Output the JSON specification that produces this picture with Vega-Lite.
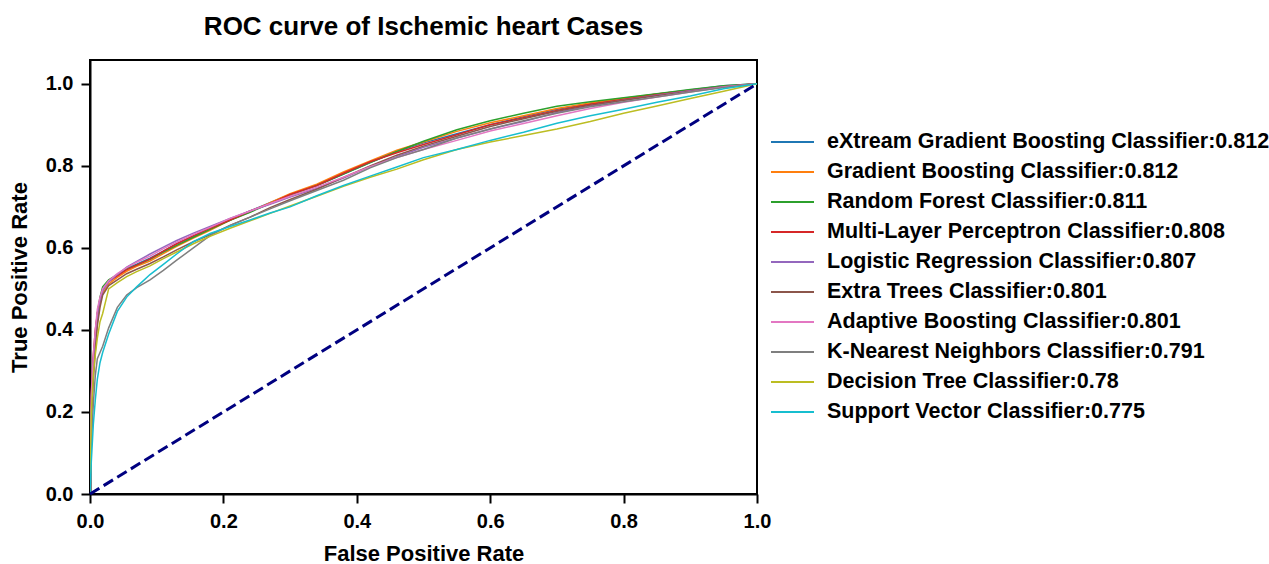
{
 "$schema": "https://vega.github.io/schema/vega-lite/v6.json",
 "width": 667,
 "height": 434,
 "autosize": {"type": "none"},
 "padding": {"left": 90, "top": 60, "right": 512, "bottom": 70},
 "background": "white",
 "title": {"text": "ROC curve of Ischemic heart Cases", "font": "Liberation Sans", "fontSize": 26, "fontWeight": "bold", "color": "black", "anchor": "middle", "frame": "group", "baseline": "alphabetic", "offset": -1},
 "config": {"view": {"stroke": "black", "strokeWidth": 2}},
 "layer": [
  {
   "data": {"values": [
{"model":"eXtream Gradient Boosting Classifier:0.812","fpr":0,"tpr":0},{"model":"eXtream Gradient Boosting Classifier:0.812","fpr":0.002,"tpr":0.23},{"model":"eXtream Gradient Boosting Classifier:0.812","fpr":0.005,"tpr":0.33},{"model":"eXtream Gradient Boosting Classifier:0.812","fpr":0.008,"tpr":0.38},{"model":"eXtream Gradient Boosting Classifier:0.812","fpr":0.011,"tpr":0.44},{"model":"eXtream Gradient Boosting Classifier:0.812","fpr":0.015,"tpr":0.475},{"model":"eXtream Gradient Boosting Classifier:0.812","fpr":0.019,"tpr":0.5},{"model":"eXtream Gradient Boosting Classifier:0.812","fpr":0.028,"tpr":0.52},{"model":"eXtream Gradient Boosting Classifier:0.812","fpr":0.041,"tpr":0.535},{"model":"eXtream Gradient Boosting Classifier:0.812","fpr":0.055,"tpr":0.55},{"model":"eXtream Gradient Boosting Classifier:0.812","fpr":0.07,"tpr":0.56},{"model":"eXtream Gradient Boosting Classifier:0.812","fpr":0.09,"tpr":0.575},{"model":"eXtream Gradient Boosting Classifier:0.812","fpr":0.11,"tpr":0.592},{"model":"eXtream Gradient Boosting Classifier:0.812","fpr":0.13,"tpr":0.61},{"model":"eXtream Gradient Boosting Classifier:0.812","fpr":0.155,"tpr":0.628},{"model":"eXtream Gradient Boosting Classifier:0.812","fpr":0.18,"tpr":0.648},{"model":"eXtream Gradient Boosting Classifier:0.812","fpr":0.21,"tpr":0.668},{"model":"eXtream Gradient Boosting Classifier:0.812","fpr":0.24,"tpr":0.69},{"model":"eXtream Gradient Boosting Classifier:0.812","fpr":0.27,"tpr":0.71},{"model":"eXtream Gradient Boosting Classifier:0.812","fpr":0.3,"tpr":0.73},{"model":"eXtream Gradient Boosting Classifier:0.812","fpr":0.34,"tpr":0.752},{"model":"eXtream Gradient Boosting Classifier:0.812","fpr":0.38,"tpr":0.78},{"model":"eXtream Gradient Boosting Classifier:0.812","fpr":0.42,"tpr":0.808},{"model":"eXtream Gradient Boosting Classifier:0.812","fpr":0.46,"tpr":0.835},{"model":"eXtream Gradient Boosting Classifier:0.812","fpr":0.5,"tpr":0.856},{"model":"eXtream Gradient Boosting Classifier:0.812","fpr":0.55,"tpr":0.878},{"model":"eXtream Gradient Boosting Classifier:0.812","fpr":0.6,"tpr":0.9},{"model":"eXtream Gradient Boosting Classifier:0.812","fpr":0.65,"tpr":0.92},{"model":"eXtream Gradient Boosting Classifier:0.812","fpr":0.7,"tpr":0.938},{"model":"eXtream Gradient Boosting Classifier:0.812","fpr":0.75,"tpr":0.952},{"model":"eXtream Gradient Boosting Classifier:0.812","fpr":0.8,"tpr":0.963},{"model":"eXtream Gradient Boosting Classifier:0.812","fpr":0.85,"tpr":0.975},{"model":"eXtream Gradient Boosting Classifier:0.812","fpr":0.9,"tpr":0.985},{"model":"eXtream Gradient Boosting Classifier:0.812","fpr":0.95,"tpr":0.995},{"model":"eXtream Gradient Boosting Classifier:0.812","fpr":1,"tpr":1},
{"model":"Gradient Boosting Classifier:0.812","fpr":0,"tpr":0},{"model":"Gradient Boosting Classifier:0.812","fpr":0.002,"tpr":0.2},{"model":"Gradient Boosting Classifier:0.812","fpr":0.005,"tpr":0.3},{"model":"Gradient Boosting Classifier:0.812","fpr":0.008,"tpr":0.36},{"model":"Gradient Boosting Classifier:0.812","fpr":0.011,"tpr":0.42},{"model":"Gradient Boosting Classifier:0.812","fpr":0.015,"tpr":0.465},{"model":"Gradient Boosting Classifier:0.812","fpr":0.019,"tpr":0.49},{"model":"Gradient Boosting Classifier:0.812","fpr":0.028,"tpr":0.512},{"model":"Gradient Boosting Classifier:0.812","fpr":0.041,"tpr":0.528},{"model":"Gradient Boosting Classifier:0.812","fpr":0.055,"tpr":0.543},{"model":"Gradient Boosting Classifier:0.812","fpr":0.07,"tpr":0.555},{"model":"Gradient Boosting Classifier:0.812","fpr":0.09,"tpr":0.568},{"model":"Gradient Boosting Classifier:0.812","fpr":0.11,"tpr":0.586},{"model":"Gradient Boosting Classifier:0.812","fpr":0.13,"tpr":0.604},{"model":"Gradient Boosting Classifier:0.812","fpr":0.155,"tpr":0.624},{"model":"Gradient Boosting Classifier:0.812","fpr":0.18,"tpr":0.643},{"model":"Gradient Boosting Classifier:0.812","fpr":0.21,"tpr":0.668},{"model":"Gradient Boosting Classifier:0.812","fpr":0.24,"tpr":0.688},{"model":"Gradient Boosting Classifier:0.812","fpr":0.27,"tpr":0.71},{"model":"Gradient Boosting Classifier:0.812","fpr":0.3,"tpr":0.732},{"model":"Gradient Boosting Classifier:0.812","fpr":0.34,"tpr":0.755},{"model":"Gradient Boosting Classifier:0.812","fpr":0.38,"tpr":0.785},{"model":"Gradient Boosting Classifier:0.812","fpr":0.42,"tpr":0.812},{"model":"Gradient Boosting Classifier:0.812","fpr":0.46,"tpr":0.838},{"model":"Gradient Boosting Classifier:0.812","fpr":0.5,"tpr":0.858},{"model":"Gradient Boosting Classifier:0.812","fpr":0.55,"tpr":0.884},{"model":"Gradient Boosting Classifier:0.812","fpr":0.6,"tpr":0.905},{"model":"Gradient Boosting Classifier:0.812","fpr":0.65,"tpr":0.922},{"model":"Gradient Boosting Classifier:0.812","fpr":0.7,"tpr":0.94},{"model":"Gradient Boosting Classifier:0.812","fpr":0.75,"tpr":0.953},{"model":"Gradient Boosting Classifier:0.812","fpr":0.8,"tpr":0.965},{"model":"Gradient Boosting Classifier:0.812","fpr":0.85,"tpr":0.975},{"model":"Gradient Boosting Classifier:0.812","fpr":0.9,"tpr":0.984},{"model":"Gradient Boosting Classifier:0.812","fpr":0.95,"tpr":0.993},{"model":"Gradient Boosting Classifier:0.812","fpr":1,"tpr":1},
{"model":"Random Forest Classifier:0.811","fpr":0,"tpr":0},{"model":"Random Forest Classifier:0.811","fpr":0.002,"tpr":0.21},{"model":"Random Forest Classifier:0.811","fpr":0.005,"tpr":0.32},{"model":"Random Forest Classifier:0.811","fpr":0.008,"tpr":0.39},{"model":"Random Forest Classifier:0.811","fpr":0.011,"tpr":0.44},{"model":"Random Forest Classifier:0.811","fpr":0.015,"tpr":0.48},{"model":"Random Forest Classifier:0.811","fpr":0.019,"tpr":0.505},{"model":"Random Forest Classifier:0.811","fpr":0.028,"tpr":0.522},{"model":"Random Forest Classifier:0.811","fpr":0.041,"tpr":0.535},{"model":"Random Forest Classifier:0.811","fpr":0.055,"tpr":0.548},{"model":"Random Forest Classifier:0.811","fpr":0.07,"tpr":0.558},{"model":"Random Forest Classifier:0.811","fpr":0.09,"tpr":0.572},{"model":"Random Forest Classifier:0.811","fpr":0.11,"tpr":0.59},{"model":"Random Forest Classifier:0.811","fpr":0.13,"tpr":0.606},{"model":"Random Forest Classifier:0.811","fpr":0.155,"tpr":0.626},{"model":"Random Forest Classifier:0.811","fpr":0.18,"tpr":0.645},{"model":"Random Forest Classifier:0.811","fpr":0.21,"tpr":0.667},{"model":"Random Forest Classifier:0.811","fpr":0.24,"tpr":0.687},{"model":"Random Forest Classifier:0.811","fpr":0.27,"tpr":0.708},{"model":"Random Forest Classifier:0.811","fpr":0.3,"tpr":0.728},{"model":"Random Forest Classifier:0.811","fpr":0.34,"tpr":0.752},{"model":"Random Forest Classifier:0.811","fpr":0.38,"tpr":0.78},{"model":"Random Forest Classifier:0.811","fpr":0.42,"tpr":0.808},{"model":"Random Forest Classifier:0.811","fpr":0.46,"tpr":0.835},{"model":"Random Forest Classifier:0.811","fpr":0.5,"tpr":0.86},{"model":"Random Forest Classifier:0.811","fpr":0.55,"tpr":0.888},{"model":"Random Forest Classifier:0.811","fpr":0.6,"tpr":0.91},{"model":"Random Forest Classifier:0.811","fpr":0.65,"tpr":0.928},{"model":"Random Forest Classifier:0.811","fpr":0.7,"tpr":0.945},{"model":"Random Forest Classifier:0.811","fpr":0.75,"tpr":0.956},{"model":"Random Forest Classifier:0.811","fpr":0.8,"tpr":0.966},{"model":"Random Forest Classifier:0.811","fpr":0.85,"tpr":0.976},{"model":"Random Forest Classifier:0.811","fpr":0.9,"tpr":0.986},{"model":"Random Forest Classifier:0.811","fpr":0.95,"tpr":0.995},{"model":"Random Forest Classifier:0.811","fpr":1,"tpr":1},
{"model":"Multi-Layer Perceptron Classifier:0.808","fpr":0,"tpr":0},{"model":"Multi-Layer Perceptron Classifier:0.808","fpr":0.002,"tpr":0.25},{"model":"Multi-Layer Perceptron Classifier:0.808","fpr":0.005,"tpr":0.34},{"model":"Multi-Layer Perceptron Classifier:0.808","fpr":0.008,"tpr":0.4},{"model":"Multi-Layer Perceptron Classifier:0.808","fpr":0.011,"tpr":0.44},{"model":"Multi-Layer Perceptron Classifier:0.808","fpr":0.015,"tpr":0.475},{"model":"Multi-Layer Perceptron Classifier:0.808","fpr":0.019,"tpr":0.498},{"model":"Multi-Layer Perceptron Classifier:0.808","fpr":0.028,"tpr":0.518},{"model":"Multi-Layer Perceptron Classifier:0.808","fpr":0.041,"tpr":0.532},{"model":"Multi-Layer Perceptron Classifier:0.808","fpr":0.055,"tpr":0.547},{"model":"Multi-Layer Perceptron Classifier:0.808","fpr":0.07,"tpr":0.558},{"model":"Multi-Layer Perceptron Classifier:0.808","fpr":0.09,"tpr":0.573},{"model":"Multi-Layer Perceptron Classifier:0.808","fpr":0.11,"tpr":0.592},{"model":"Multi-Layer Perceptron Classifier:0.808","fpr":0.13,"tpr":0.61},{"model":"Multi-Layer Perceptron Classifier:0.808","fpr":0.155,"tpr":0.63},{"model":"Multi-Layer Perceptron Classifier:0.808","fpr":0.18,"tpr":0.648},{"model":"Multi-Layer Perceptron Classifier:0.808","fpr":0.21,"tpr":0.668},{"model":"Multi-Layer Perceptron Classifier:0.808","fpr":0.24,"tpr":0.69},{"model":"Multi-Layer Perceptron Classifier:0.808","fpr":0.27,"tpr":0.708},{"model":"Multi-Layer Perceptron Classifier:0.808","fpr":0.3,"tpr":0.73},{"model":"Multi-Layer Perceptron Classifier:0.808","fpr":0.34,"tpr":0.752},{"model":"Multi-Layer Perceptron Classifier:0.808","fpr":0.38,"tpr":0.782},{"model":"Multi-Layer Perceptron Classifier:0.808","fpr":0.42,"tpr":0.81},{"model":"Multi-Layer Perceptron Classifier:0.808","fpr":0.46,"tpr":0.832},{"model":"Multi-Layer Perceptron Classifier:0.808","fpr":0.5,"tpr":0.852},{"model":"Multi-Layer Perceptron Classifier:0.808","fpr":0.55,"tpr":0.876},{"model":"Multi-Layer Perceptron Classifier:0.808","fpr":0.6,"tpr":0.9},{"model":"Multi-Layer Perceptron Classifier:0.808","fpr":0.65,"tpr":0.917},{"model":"Multi-Layer Perceptron Classifier:0.808","fpr":0.7,"tpr":0.935},{"model":"Multi-Layer Perceptron Classifier:0.808","fpr":0.75,"tpr":0.95},{"model":"Multi-Layer Perceptron Classifier:0.808","fpr":0.8,"tpr":0.962},{"model":"Multi-Layer Perceptron Classifier:0.808","fpr":0.85,"tpr":0.973},{"model":"Multi-Layer Perceptron Classifier:0.808","fpr":0.9,"tpr":0.983},{"model":"Multi-Layer Perceptron Classifier:0.808","fpr":0.95,"tpr":0.993},{"model":"Multi-Layer Perceptron Classifier:0.808","fpr":1,"tpr":1},
{"model":"Logistic Regression Classifier:0.807","fpr":0,"tpr":0},{"model":"Logistic Regression Classifier:0.807","fpr":0.002,"tpr":0.2},{"model":"Logistic Regression Classifier:0.807","fpr":0.005,"tpr":0.3},{"model":"Logistic Regression Classifier:0.807","fpr":0.008,"tpr":0.37},{"model":"Logistic Regression Classifier:0.807","fpr":0.011,"tpr":0.43},{"model":"Logistic Regression Classifier:0.807","fpr":0.015,"tpr":0.47},{"model":"Logistic Regression Classifier:0.807","fpr":0.019,"tpr":0.495},{"model":"Logistic Regression Classifier:0.807","fpr":0.028,"tpr":0.517},{"model":"Logistic Regression Classifier:0.807","fpr":0.041,"tpr":0.535},{"model":"Logistic Regression Classifier:0.807","fpr":0.055,"tpr":0.553},{"model":"Logistic Regression Classifier:0.807","fpr":0.07,"tpr":0.567},{"model":"Logistic Regression Classifier:0.807","fpr":0.09,"tpr":0.585},{"model":"Logistic Regression Classifier:0.807","fpr":0.11,"tpr":0.602},{"model":"Logistic Regression Classifier:0.807","fpr":0.13,"tpr":0.618},{"model":"Logistic Regression Classifier:0.807","fpr":0.155,"tpr":0.636},{"model":"Logistic Regression Classifier:0.807","fpr":0.18,"tpr":0.652},{"model":"Logistic Regression Classifier:0.807","fpr":0.21,"tpr":0.672},{"model":"Logistic Regression Classifier:0.807","fpr":0.24,"tpr":0.69},{"model":"Logistic Regression Classifier:0.807","fpr":0.27,"tpr":0.706},{"model":"Logistic Regression Classifier:0.807","fpr":0.3,"tpr":0.724},{"model":"Logistic Regression Classifier:0.807","fpr":0.34,"tpr":0.745},{"model":"Logistic Regression Classifier:0.807","fpr":0.38,"tpr":0.77},{"model":"Logistic Regression Classifier:0.807","fpr":0.42,"tpr":0.798},{"model":"Logistic Regression Classifier:0.807","fpr":0.46,"tpr":0.822},{"model":"Logistic Regression Classifier:0.807","fpr":0.5,"tpr":0.845},{"model":"Logistic Regression Classifier:0.807","fpr":0.55,"tpr":0.868},{"model":"Logistic Regression Classifier:0.807","fpr":0.6,"tpr":0.89},{"model":"Logistic Regression Classifier:0.807","fpr":0.65,"tpr":0.908},{"model":"Logistic Regression Classifier:0.807","fpr":0.7,"tpr":0.93},{"model":"Logistic Regression Classifier:0.807","fpr":0.75,"tpr":0.946},{"model":"Logistic Regression Classifier:0.807","fpr":0.8,"tpr":0.96},{"model":"Logistic Regression Classifier:0.807","fpr":0.85,"tpr":0.972},{"model":"Logistic Regression Classifier:0.807","fpr":0.9,"tpr":0.983},{"model":"Logistic Regression Classifier:0.807","fpr":0.95,"tpr":0.993},{"model":"Logistic Regression Classifier:0.807","fpr":1,"tpr":1},
{"model":"Extra Trees Classifier:0.801","fpr":0,"tpr":0},{"model":"Extra Trees Classifier:0.801","fpr":0.002,"tpr":0.19},{"model":"Extra Trees Classifier:0.801","fpr":0.005,"tpr":0.28},{"model":"Extra Trees Classifier:0.801","fpr":0.008,"tpr":0.35},{"model":"Extra Trees Classifier:0.801","fpr":0.011,"tpr":0.41},{"model":"Extra Trees Classifier:0.801","fpr":0.015,"tpr":0.455},{"model":"Extra Trees Classifier:0.801","fpr":0.019,"tpr":0.485},{"model":"Extra Trees Classifier:0.801","fpr":0.028,"tpr":0.508},{"model":"Extra Trees Classifier:0.801","fpr":0.041,"tpr":0.522},{"model":"Extra Trees Classifier:0.801","fpr":0.055,"tpr":0.537},{"model":"Extra Trees Classifier:0.801","fpr":0.07,"tpr":0.548},{"model":"Extra Trees Classifier:0.801","fpr":0.09,"tpr":0.562},{"model":"Extra Trees Classifier:0.801","fpr":0.11,"tpr":0.578},{"model":"Extra Trees Classifier:0.801","fpr":0.13,"tpr":0.595},{"model":"Extra Trees Classifier:0.801","fpr":0.155,"tpr":0.615},{"model":"Extra Trees Classifier:0.801","fpr":0.18,"tpr":0.632},{"model":"Extra Trees Classifier:0.801","fpr":0.21,"tpr":0.655},{"model":"Extra Trees Classifier:0.801","fpr":0.24,"tpr":0.675},{"model":"Extra Trees Classifier:0.801","fpr":0.27,"tpr":0.698},{"model":"Extra Trees Classifier:0.801","fpr":0.3,"tpr":0.718},{"model":"Extra Trees Classifier:0.801","fpr":0.34,"tpr":0.743},{"model":"Extra Trees Classifier:0.801","fpr":0.38,"tpr":0.772},{"model":"Extra Trees Classifier:0.801","fpr":0.42,"tpr":0.8},{"model":"Extra Trees Classifier:0.801","fpr":0.46,"tpr":0.826},{"model":"Extra Trees Classifier:0.801","fpr":0.5,"tpr":0.848},{"model":"Extra Trees Classifier:0.801","fpr":0.55,"tpr":0.872},{"model":"Extra Trees Classifier:0.801","fpr":0.6,"tpr":0.896},{"model":"Extra Trees Classifier:0.801","fpr":0.65,"tpr":0.915},{"model":"Extra Trees Classifier:0.801","fpr":0.7,"tpr":0.933},{"model":"Extra Trees Classifier:0.801","fpr":0.75,"tpr":0.948},{"model":"Extra Trees Classifier:0.801","fpr":0.8,"tpr":0.96},{"model":"Extra Trees Classifier:0.801","fpr":0.85,"tpr":0.971},{"model":"Extra Trees Classifier:0.801","fpr":0.9,"tpr":0.981},{"model":"Extra Trees Classifier:0.801","fpr":0.95,"tpr":0.992},{"model":"Extra Trees Classifier:0.801","fpr":1,"tpr":1},
{"model":"Adaptive Boosting Classifier:0.801","fpr":0,"tpr":0},{"model":"Adaptive Boosting Classifier:0.801","fpr":0.002,"tpr":0.24},{"model":"Adaptive Boosting Classifier:0.801","fpr":0.005,"tpr":0.34},{"model":"Adaptive Boosting Classifier:0.801","fpr":0.008,"tpr":0.4},{"model":"Adaptive Boosting Classifier:0.801","fpr":0.011,"tpr":0.45},{"model":"Adaptive Boosting Classifier:0.801","fpr":0.015,"tpr":0.48},{"model":"Adaptive Boosting Classifier:0.801","fpr":0.019,"tpr":0.5},{"model":"Adaptive Boosting Classifier:0.801","fpr":0.028,"tpr":0.52},{"model":"Adaptive Boosting Classifier:0.801","fpr":0.041,"tpr":0.537},{"model":"Adaptive Boosting Classifier:0.801","fpr":0.055,"tpr":0.552},{"model":"Adaptive Boosting Classifier:0.801","fpr":0.07,"tpr":0.565},{"model":"Adaptive Boosting Classifier:0.801","fpr":0.09,"tpr":0.58},{"model":"Adaptive Boosting Classifier:0.801","fpr":0.11,"tpr":0.598},{"model":"Adaptive Boosting Classifier:0.801","fpr":0.13,"tpr":0.614},{"model":"Adaptive Boosting Classifier:0.801","fpr":0.155,"tpr":0.633},{"model":"Adaptive Boosting Classifier:0.801","fpr":0.18,"tpr":0.65},{"model":"Adaptive Boosting Classifier:0.801","fpr":0.21,"tpr":0.672},{"model":"Adaptive Boosting Classifier:0.801","fpr":0.24,"tpr":0.69},{"model":"Adaptive Boosting Classifier:0.801","fpr":0.27,"tpr":0.708},{"model":"Adaptive Boosting Classifier:0.801","fpr":0.3,"tpr":0.726},{"model":"Adaptive Boosting Classifier:0.801","fpr":0.34,"tpr":0.748},{"model":"Adaptive Boosting Classifier:0.801","fpr":0.38,"tpr":0.772},{"model":"Adaptive Boosting Classifier:0.801","fpr":0.42,"tpr":0.798},{"model":"Adaptive Boosting Classifier:0.801","fpr":0.46,"tpr":0.82},{"model":"Adaptive Boosting Classifier:0.801","fpr":0.5,"tpr":0.84},{"model":"Adaptive Boosting Classifier:0.801","fpr":0.55,"tpr":0.862},{"model":"Adaptive Boosting Classifier:0.801","fpr":0.6,"tpr":0.885},{"model":"Adaptive Boosting Classifier:0.801","fpr":0.65,"tpr":0.903},{"model":"Adaptive Boosting Classifier:0.801","fpr":0.7,"tpr":0.922},{"model":"Adaptive Boosting Classifier:0.801","fpr":0.75,"tpr":0.94},{"model":"Adaptive Boosting Classifier:0.801","fpr":0.8,"tpr":0.955},{"model":"Adaptive Boosting Classifier:0.801","fpr":0.85,"tpr":0.968},{"model":"Adaptive Boosting Classifier:0.801","fpr":0.9,"tpr":0.98},{"model":"Adaptive Boosting Classifier:0.801","fpr":0.95,"tpr":0.992},{"model":"Adaptive Boosting Classifier:0.801","fpr":1,"tpr":1},
{"model":"K-Nearest Neighbors Classifier:0.791","fpr":0,"tpr":0},{"model":"K-Nearest Neighbors Classifier:0.791","fpr":0.002,"tpr":0.12},{"model":"K-Nearest Neighbors Classifier:0.791","fpr":0.005,"tpr":0.22},{"model":"K-Nearest Neighbors Classifier:0.791","fpr":0.008,"tpr":0.29},{"model":"K-Nearest Neighbors Classifier:0.791","fpr":0.011,"tpr":0.33},{"model":"K-Nearest Neighbors Classifier:0.791","fpr":0.015,"tpr":0.345},{"model":"K-Nearest Neighbors Classifier:0.791","fpr":0.019,"tpr":0.36},{"model":"K-Nearest Neighbors Classifier:0.791","fpr":0.028,"tpr":0.405},{"model":"K-Nearest Neighbors Classifier:0.791","fpr":0.041,"tpr":0.455},{"model":"K-Nearest Neighbors Classifier:0.791","fpr":0.055,"tpr":0.485},{"model":"K-Nearest Neighbors Classifier:0.791","fpr":0.07,"tpr":0.503},{"model":"K-Nearest Neighbors Classifier:0.791","fpr":0.09,"tpr":0.522},{"model":"K-Nearest Neighbors Classifier:0.791","fpr":0.11,"tpr":0.545},{"model":"K-Nearest Neighbors Classifier:0.791","fpr":0.13,"tpr":0.57},{"model":"K-Nearest Neighbors Classifier:0.791","fpr":0.155,"tpr":0.6},{"model":"K-Nearest Neighbors Classifier:0.791","fpr":0.18,"tpr":0.63},{"model":"K-Nearest Neighbors Classifier:0.791","fpr":0.21,"tpr":0.655},{"model":"K-Nearest Neighbors Classifier:0.791","fpr":0.24,"tpr":0.675},{"model":"K-Nearest Neighbors Classifier:0.791","fpr":0.27,"tpr":0.695},{"model":"K-Nearest Neighbors Classifier:0.791","fpr":0.3,"tpr":0.715},{"model":"K-Nearest Neighbors Classifier:0.791","fpr":0.34,"tpr":0.74},{"model":"K-Nearest Neighbors Classifier:0.791","fpr":0.38,"tpr":0.765},{"model":"K-Nearest Neighbors Classifier:0.791","fpr":0.42,"tpr":0.795},{"model":"K-Nearest Neighbors Classifier:0.791","fpr":0.46,"tpr":0.82},{"model":"K-Nearest Neighbors Classifier:0.791","fpr":0.5,"tpr":0.84},{"model":"K-Nearest Neighbors Classifier:0.791","fpr":0.55,"tpr":0.868},{"model":"K-Nearest Neighbors Classifier:0.791","fpr":0.6,"tpr":0.89},{"model":"K-Nearest Neighbors Classifier:0.791","fpr":0.65,"tpr":0.91},{"model":"K-Nearest Neighbors Classifier:0.791","fpr":0.7,"tpr":0.928},{"model":"K-Nearest Neighbors Classifier:0.791","fpr":0.75,"tpr":0.944},{"model":"K-Nearest Neighbors Classifier:0.791","fpr":0.8,"tpr":0.956},{"model":"K-Nearest Neighbors Classifier:0.791","fpr":0.85,"tpr":0.968},{"model":"K-Nearest Neighbors Classifier:0.791","fpr":0.9,"tpr":0.98},{"model":"K-Nearest Neighbors Classifier:0.791","fpr":0.95,"tpr":0.991},{"model":"K-Nearest Neighbors Classifier:0.791","fpr":1,"tpr":1},
{"model":"Decision Tree Classifier:0.78","fpr":0,"tpr":0},{"model":"Decision Tree Classifier:0.78","fpr":0.002,"tpr":0.2},{"model":"Decision Tree Classifier:0.78","fpr":0.005,"tpr":0.29},{"model":"Decision Tree Classifier:0.78","fpr":0.008,"tpr":0.34},{"model":"Decision Tree Classifier:0.78","fpr":0.011,"tpr":0.38},{"model":"Decision Tree Classifier:0.78","fpr":0.015,"tpr":0.42},{"model":"Decision Tree Classifier:0.78","fpr":0.019,"tpr":0.44},{"model":"Decision Tree Classifier:0.78","fpr":0.028,"tpr":0.5},{"model":"Decision Tree Classifier:0.78","fpr":0.041,"tpr":0.515},{"model":"Decision Tree Classifier:0.78","fpr":0.055,"tpr":0.53},{"model":"Decision Tree Classifier:0.78","fpr":0.07,"tpr":0.542},{"model":"Decision Tree Classifier:0.78","fpr":0.09,"tpr":0.556},{"model":"Decision Tree Classifier:0.78","fpr":0.11,"tpr":0.574},{"model":"Decision Tree Classifier:0.78","fpr":0.13,"tpr":0.59},{"model":"Decision Tree Classifier:0.78","fpr":0.155,"tpr":0.61},{"model":"Decision Tree Classifier:0.78","fpr":0.18,"tpr":0.628},{"model":"Decision Tree Classifier:0.78","fpr":0.21,"tpr":0.648},{"model":"Decision Tree Classifier:0.78","fpr":0.24,"tpr":0.666},{"model":"Decision Tree Classifier:0.78","fpr":0.27,"tpr":0.684},{"model":"Decision Tree Classifier:0.78","fpr":0.3,"tpr":0.702},{"model":"Decision Tree Classifier:0.78","fpr":0.34,"tpr":0.726},{"model":"Decision Tree Classifier:0.78","fpr":0.38,"tpr":0.75},{"model":"Decision Tree Classifier:0.78","fpr":0.42,"tpr":0.772},{"model":"Decision Tree Classifier:0.78","fpr":0.46,"tpr":0.792},{"model":"Decision Tree Classifier:0.78","fpr":0.5,"tpr":0.815},{"model":"Decision Tree Classifier:0.78","fpr":0.55,"tpr":0.84},{"model":"Decision Tree Classifier:0.78","fpr":0.6,"tpr":0.858},{"model":"Decision Tree Classifier:0.78","fpr":0.65,"tpr":0.874},{"model":"Decision Tree Classifier:0.78","fpr":0.7,"tpr":0.89},{"model":"Decision Tree Classifier:0.78","fpr":0.75,"tpr":0.908},{"model":"Decision Tree Classifier:0.78","fpr":0.8,"tpr":0.928},{"model":"Decision Tree Classifier:0.78","fpr":0.85,"tpr":0.946},{"model":"Decision Tree Classifier:0.78","fpr":0.9,"tpr":0.964},{"model":"Decision Tree Classifier:0.78","fpr":0.95,"tpr":0.982},{"model":"Decision Tree Classifier:0.78","fpr":1,"tpr":1},
{"model":"Support Vector Classifier:0.775","fpr":0,"tpr":0},{"model":"Support Vector Classifier:0.775","fpr":0.002,"tpr":0.08},{"model":"Support Vector Classifier:0.775","fpr":0.005,"tpr":0.17},{"model":"Support Vector Classifier:0.775","fpr":0.008,"tpr":0.23},{"model":"Support Vector Classifier:0.775","fpr":0.011,"tpr":0.28},{"model":"Support Vector Classifier:0.775","fpr":0.015,"tpr":0.32},{"model":"Support Vector Classifier:0.775","fpr":0.019,"tpr":0.345},{"model":"Support Vector Classifier:0.775","fpr":0.028,"tpr":0.39},{"model":"Support Vector Classifier:0.775","fpr":0.041,"tpr":0.445},{"model":"Support Vector Classifier:0.775","fpr":0.055,"tpr":0.48},{"model":"Support Vector Classifier:0.775","fpr":0.07,"tpr":0.505},{"model":"Support Vector Classifier:0.775","fpr":0.09,"tpr":0.535},{"model":"Support Vector Classifier:0.775","fpr":0.11,"tpr":0.56},{"model":"Support Vector Classifier:0.775","fpr":0.13,"tpr":0.585},{"model":"Support Vector Classifier:0.775","fpr":0.155,"tpr":0.615},{"model":"Support Vector Classifier:0.775","fpr":0.18,"tpr":0.635},{"model":"Support Vector Classifier:0.775","fpr":0.21,"tpr":0.652},{"model":"Support Vector Classifier:0.775","fpr":0.24,"tpr":0.668},{"model":"Support Vector Classifier:0.775","fpr":0.27,"tpr":0.685},{"model":"Support Vector Classifier:0.775","fpr":0.3,"tpr":0.7},{"model":"Support Vector Classifier:0.775","fpr":0.34,"tpr":0.727},{"model":"Support Vector Classifier:0.775","fpr":0.38,"tpr":0.752},{"model":"Support Vector Classifier:0.775","fpr":0.42,"tpr":0.775},{"model":"Support Vector Classifier:0.775","fpr":0.46,"tpr":0.797},{"model":"Support Vector Classifier:0.775","fpr":0.5,"tpr":0.82},{"model":"Support Vector Classifier:0.775","fpr":0.55,"tpr":0.84},{"model":"Support Vector Classifier:0.775","fpr":0.6,"tpr":0.862},{"model":"Support Vector Classifier:0.775","fpr":0.65,"tpr":0.882},{"model":"Support Vector Classifier:0.775","fpr":0.7,"tpr":0.904},{"model":"Support Vector Classifier:0.775","fpr":0.75,"tpr":0.922},{"model":"Support Vector Classifier:0.775","fpr":0.8,"tpr":0.938},{"model":"Support Vector Classifier:0.775","fpr":0.85,"tpr":0.955},{"model":"Support Vector Classifier:0.775","fpr":0.9,"tpr":0.97},{"model":"Support Vector Classifier:0.775","fpr":0.95,"tpr":0.988},{"model":"Support Vector Classifier:0.775","fpr":1,"tpr":1}
   ]},
   "mark": {"type": "line", "strokeWidth": 1.5, "clip": true},
   "encoding": {
    "x": {"field": "fpr", "type": "quantitative", "scale": {"domain": [0, 1], "nice": false, "zero": false},
     "axis": {"title": "False Positive Rate", "values": [0, 0.2, 0.4, 0.6, 0.8, 1.0], "format": ".1f", "grid": false, "labelFlush": false,
      "labelFont": "Liberation Sans", "labelFontSize": 20, "labelFontWeight": "bold", "labelColor": "black", "labelPadding": 8,
      "titleFont": "Liberation Sans", "titleFontSize": 22, "titleFontWeight": "bold", "titleColor": "black", "titlePadding": 12,
      "tickSize": 9, "tickWidth": 2, "tickColor": "black", "domainColor": "black", "domainWidth": 2}},
    "y": {"field": "tpr", "type": "quantitative", "scale": {"domain": [0, 1.058], "nice": false, "zero": false},
     "axis": {"title": "True Positive Rate", "values": [0, 0.2, 0.4, 0.6, 0.8, 1.0], "format": ".1f", "grid": false, "labelFlush": false,
      "labelFont": "Liberation Sans", "labelFontSize": 20, "labelFontWeight": "bold", "labelColor": "black", "labelPadding": 8,
      "titleFont": "Liberation Sans", "titleFontSize": 22, "titleFontWeight": "bold", "titleColor": "black", "titlePadding": 14,
      "tickSize": 9, "tickWidth": 2, "tickColor": "black", "domainColor": "black", "domainWidth": 2}},
    "color": {"field": "model", "type": "nominal",
     "scale": {"domain": ["eXtream Gradient Boosting Classifier:0.812", "Gradient Boosting Classifier:0.812", "Random Forest Classifier:0.811", "Multi-Layer Perceptron Classifier:0.808", "Logistic Regression Classifier:0.807", "Extra Trees Classifier:0.801", "Adaptive Boosting Classifier:0.801", "K-Nearest Neighbors Classifier:0.791", "Decision Tree Classifier:0.78", "Support Vector Classifier:0.775"],
      "range": ["#1f77b4", "#ff7f0e", "#2ca02c", "#d62728", "#9467bd", "#8c564b", "#e377c2", "#7f7f7f", "#bcbd22", "#17becf"]},
     "legend": {"title": null, "orient": "none", "legendX": 680, "legendY": 67, "symbolType": "stroke", "symbolSize": 1849, "symbolStrokeWidth": 2, "clipHeight": 29.8,
      "labelFont": "Liberation Sans", "labelFontSize": 21.5, "labelFontWeight": "bold", "labelColor": "black", "labelOffset": 12, "labelLimit": 700, "rowPadding": 0}}
   }
  },
  {
   "data": {"values": [{"fpr": 0, "tpr": 0}, {"fpr": 1, "tpr": 1}]},
   "mark": {"type": "line", "color": "#000080", "strokeWidth": 3, "strokeDash": [11, 5]},
   "encoding": {
    "x": {"field": "fpr", "type": "quantitative"},
    "y": {"field": "tpr", "type": "quantitative"}
   }
  }
 ]
}
